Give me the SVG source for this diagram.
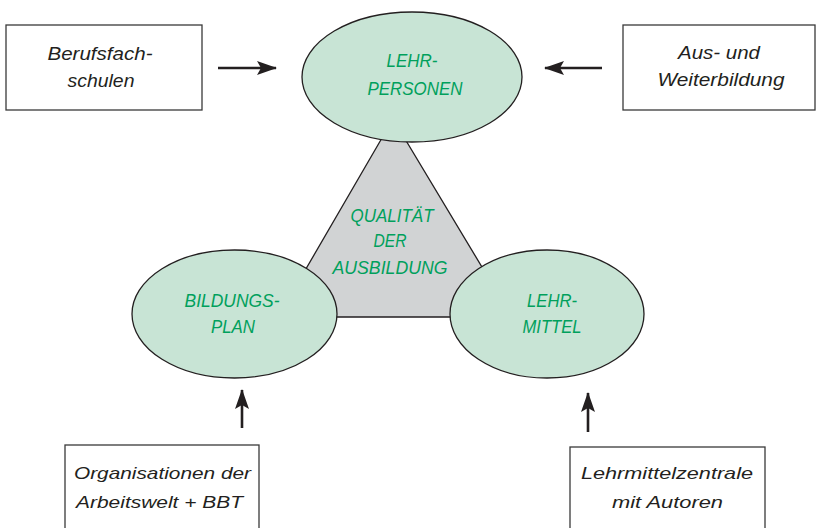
<svg xmlns="http://www.w3.org/2000/svg" width="816" height="528" viewBox="0 0 816 528">
<defs>
<style>
.box{fill:#fff;stroke:#3a3a3a;stroke-width:1.3}
.ell{fill:#c8e4d5;stroke:#231f20;stroke-width:1.3}
.tri{fill:#d1d3d4;stroke:#231f20;stroke-width:1.3}
.g{font-family:"Liberation Sans","DejaVu Sans",sans-serif;font-style:italic;font-size:18px;fill:#00a05c;text-anchor:middle}
.k{font-family:"Liberation Sans","DejaVu Sans",sans-serif;font-style:italic;fill:#231f20;text-anchor:middle}
.a{stroke:#231f20;stroke-width:2.6;fill:none;marker-end:url(#ah)}
</style>
<marker id="ah" markerUnits="userSpaceOnUse" viewBox="0 0 20 14" refX="19" refY="7" markerWidth="20" markerHeight="14" orient="auto">
<path d="M0,0 L20,7 L0,14 L4,7 Z" fill="#231f20"/>
</marker>
</defs>
<g id="connectors">
<line class="a" x1="218" y1="68" x2="276" y2="68"/>
<line class="a" x1="602" y1="68" x2="545" y2="68"/>
<line class="a" x1="242" y1="428" x2="242" y2="390"/>
<line class="a" x1="588" y1="432" x2="588" y2="393"/>
</g>
<g id="qualitaet">
<polygon class="tri" points="393,119 278,317 512,317"/>
<text class="g" x="392" y="222" textLength="83" lengthAdjust="spacingAndGlyphs">QUALITÄT</text>
<text class="g" x="390" y="247" textLength="33" lengthAdjust="spacingAndGlyphs">DER</text>
<text class="g" x="390" y="274" textLength="115" lengthAdjust="spacingAndGlyphs">AUSBILDUNG</text>
</g>
<g id="lehrpersonen">
<ellipse class="ell" cx="412" cy="77" rx="110" ry="65"/>
<text class="g" x="412" y="67" textLength="51" lengthAdjust="spacingAndGlyphs">LEHR-</text>
<text class="g" x="415" y="95" textLength="95" lengthAdjust="spacingAndGlyphs">PERSONEN</text>
</g>
<g id="bildungsplan">
<ellipse class="ell" cx="234.5" cy="314" rx="102.5" ry="64"/>
<text class="g" x="232" y="307" textLength="95" lengthAdjust="spacingAndGlyphs">BILDUNGS-</text>
<text class="g" x="233" y="333" textLength="44" lengthAdjust="spacingAndGlyphs">PLAN</text>
</g>
<g id="lehrmittel">
<ellipse class="ell" cx="547" cy="314" rx="97" ry="64"/>
<text class="g" x="552" y="307" textLength="50" lengthAdjust="spacingAndGlyphs">LEHR-</text>
<text class="g" x="552" y="333" textLength="59" lengthAdjust="spacingAndGlyphs">MITTEL</text>
</g>
<g id="berufsfachschulen">
<rect class="box" x="6" y="25" width="196" height="85"/>
<text class="k" font-size="19" x="100" y="60" textLength="105" lengthAdjust="spacingAndGlyphs">Berufsfach-</text>
<text class="k" font-size="19" x="101" y="87" textLength="67" lengthAdjust="spacingAndGlyphs">schulen</text>
</g>
<g id="weiterbildung">
<rect class="box" x="623" y="25" width="192" height="85"/>
<text class="k" font-size="19" x="719" y="59" textLength="82" lengthAdjust="spacingAndGlyphs">Aus- und</text>
<text class="k" font-size="19" x="721" y="86" textLength="127" lengthAdjust="spacingAndGlyphs">Weiterbildung</text>
</g>
<g id="organisationen">
<rect class="box" x="65" y="445" width="194" height="90"/>
<text class="k" font-size="17" x="162.5" y="479" textLength="177" lengthAdjust="spacingAndGlyphs">Organisationen der</text>
<text class="k" font-size="17" x="159.5" y="508" textLength="167" lengthAdjust="spacingAndGlyphs">Arbeitswelt + BBT</text>
</g>
<g id="lehrmittelzentrale">
<rect class="box" x="570" y="447" width="195" height="90"/>
<text class="k" font-size="17" x="667" y="479" textLength="172" lengthAdjust="spacingAndGlyphs">Lehrmittelzentrale</text>
<text class="k" font-size="17" x="667.5" y="508" textLength="111" lengthAdjust="spacingAndGlyphs">mit Autoren</text>
</g>
</svg>
